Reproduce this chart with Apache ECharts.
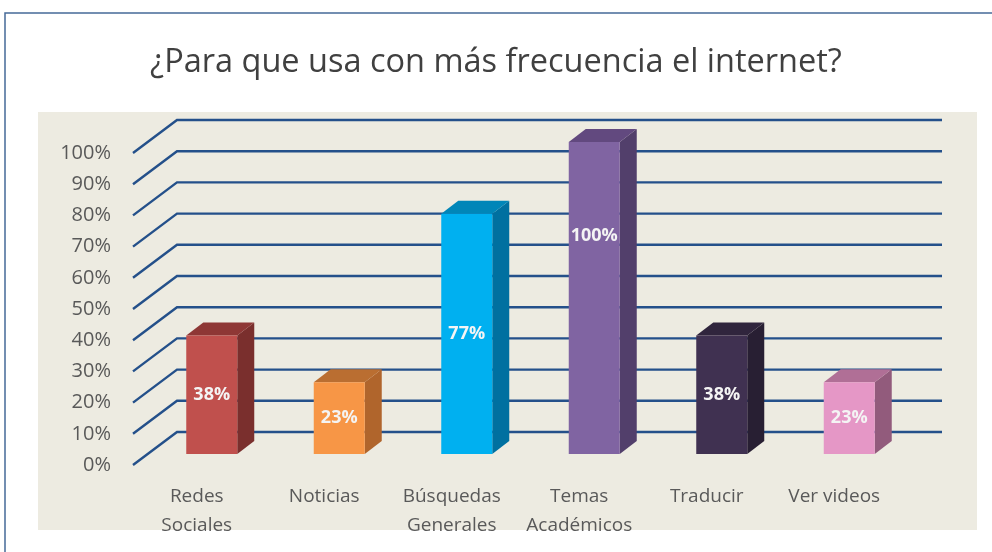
<!DOCTYPE html>
<html>
<head>
<meta charset="utf-8">
<script src="https://cdn.jsdelivr.net/npm/echarts@6/dist/echarts.min.js"></script>
<style>
html, body { margin: 0; padding: 0; background: #fff; }
#chart { width: 992px; height: 552px; }
</style>
</head>
<body>
<div id="chart"></div>
<script>
var categories = ['Redes\nSociales', 'Noticias', 'Búsquedas\nGenerales', 'Temas\nAcadémicos', 'Traducir', 'Ver videos'];
var values = [38, 23, 77, 100, 38, 23];
var valueLabels = ['38%', '23%', '77%', '100%', '38%', '23%'];
var tickValues = [0, 10, 20, 30, 40, 50, 60, 70, 80, 90, 100];
// front / side / top colours per bar
var frontColors = ['#C0504D', '#F79646', '#00B0F0', '#8064A2', '#403151', '#E597C6'];
var sideColors = ['#7A2F2D', '#B0652C', '#0070A0', '#523F6B', '#281F33', '#925B7C'];
var topColors = ['#8E3735', '#BA6E31', '#0086B8', '#62497F', '#30253D', '#B06F96'];

var depthX = 44, depthY = -33; // perspective of the wall lines
var chart = echarts.init(document.getElementById('chart'));

var option = {
	backgroundColor: '#ffffff',
	animation: false,
	title: {
		text: '¿Para que usa con más frecuencia el internet?',
		left: 'center',
		top: 41,
		textStyle: { fontFamily: 'Open Sans', fontWeight: 'normal', fontSize: 32.5, color: '#404040' }
	},
	graphic: [
		{ type: 'rect', shape: { x: 5, y: 13, width: 1000, height: 600 }, style: { fill: 'none', stroke: '#466A98', lineWidth: 1.5 }, z: -10 },
		{ type: 'rect', shape: { x: 38, y: 112, width: 939, height: 418 }, style: { fill: '#EDEBE1' }, z: -9 }
	],
	grid: { left: 133, right: 94, top: 153, bottom: 87 },
	xAxis: {
		type: 'category',
		data: categories,
		axisLine: { show: false },
		axisTick: { show: false },
		axisLabel: { interval: 0, margin: 17, fontFamily: 'Open Sans', fontSize: 19, color: '#595959', lineHeight: 29 }
	},
	yAxis: {
		type: 'value',
		min: 0,
		max: 100,
		interval: 10,
		splitLine: { show: false },
		axisLine: { show: false },
		axisTick: { show: false },
		axisLabel: { margin: 22, fontFamily: 'Open Sans', fontSize: 20, color: '#595959', formatter: '{value}%' }
	},
	series: [
		{
			type: 'custom',
			clip: false,
			z: 1,
			data: tickValues.map(function(v) { return [0, v]; }),
			renderItem: function(params, api) {
				var cs = params.coordSys;
				var y = api.coord([0, api.value(1)])[1];
				var x0 = cs.x, x1 = cs.x + depthX, x2 = cs.x + cs.width + depthX;
				return {
					type: 'polyline',
					shape: { points: [[x0, y], [x1, y + depthY], [x2, y + depthY]] },
					style: { fill: null, stroke: '#24508A', lineWidth: 2.4 }
				};
			}
		},
		{
			type: 'custom',
			clip: false,
			z: 5,
			data: values.map(function(v, i) { return [i, v]; }),
			renderItem: function(params, api) {
				var i = api.value(0);
				var v = api.value(1);
				var base = api.coord([i, 0]);
				var topP = api.coord([i, v]);
				var w = api.size([1, 0])[0] * 0.4;
				var ox = 15, oy = -11, sx = 17, sy = -13;
				var l = base[0] + ox - w / 2, r = l + w;
				var b = base[1] + oy, t = topP[1] + oy;
				// the full bar has its label higher up, like the original
				var ly = v >= 100 ? b - (b - t) * 0.7 : (t + b) / 2;
				return {
					type: 'group',
					children: [
						{ type: 'polygon', shape: { points: [[r, b], [r + sx, b + sy], [r + sx, t + sy], [r, t]] }, style: { fill: sideColors[i] } },
						{ type: 'polygon', shape: { points: [[l, t], [l + sx, t + sy], [r + sx, t + sy], [r, t]] }, style: { fill: topColors[i] } },
						{ type: 'rect', shape: { x: l, y: t, width: w, height: b - t }, style: { fill: frontColors[i] } },
						{ type: 'text', x: l + w / 2, y: ly, style: { text: valueLabels[i], fill: '#F4F4F4', font: 'bold 18px "Open Sans"', align: 'center', verticalAlign: 'middle' } }
					]
				};
			}
		}
	]
};
chart.setOption(option);
</script>
</body>
</html>
